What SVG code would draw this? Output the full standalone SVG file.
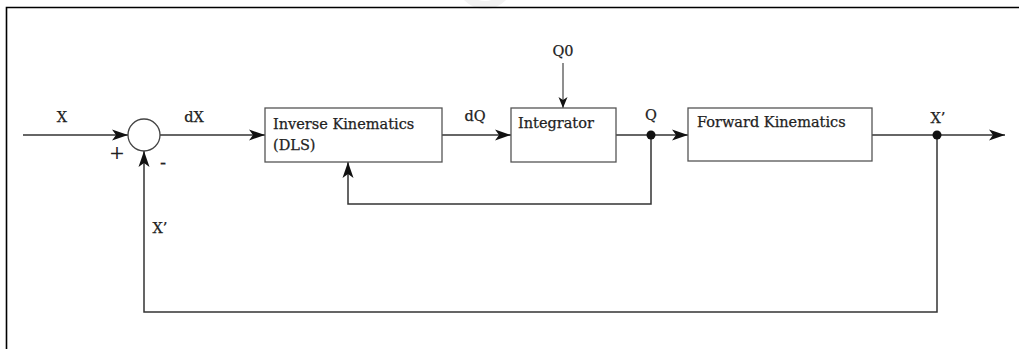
<svg xmlns="http://www.w3.org/2000/svg" width="1019" height="349" viewBox="0 0 1019 349">
<style>
  .box{fill:#fff;stroke:#555;stroke-width:1.3}
  .ln{fill:none;stroke:#333;stroke-width:1.5}
  .thin{fill:none;stroke:#333;stroke-width:1.1}
  .t{font-family:"DejaVu Serif","Liberation Serif",serif;font-size:14.5px;fill:#222;stroke:#222;stroke-width:0.25}
  .lbl{font-family:"DejaVu Serif","Liberation Serif",serif;font-size:14.5px;fill:#222;stroke:#222;stroke-width:0.25;text-anchor:middle}
</style>
<defs>
  <marker id="arr" markerUnits="userSpaceOnUse" markerWidth="18" markerHeight="12" refX="16" refY="6" orient="auto">
    <path d="M0,0.5 L16,6 L0,11.5 L4,6 z" fill="#111"/>
  </marker>
  <marker id="arrs" markerUnits="userSpaceOnUse" markerWidth="12" markerHeight="10" refX="11" refY="5" orient="auto">
    <path d="M0,0.5 L11,5 L0,9.5 L3,5 z" fill="#111"/>
  </marker>
</defs>
<rect width="1019" height="349" fill="#fff"/>
<path d="M460,-20 A25,25 0 0 0 510,-20" fill="none" stroke="#f2f2f2" stroke-width="8"/>
<path d="M6.5,349 V7.5 H1019" fill="none" stroke="#000" stroke-width="1.6"/>

<g id="connectors">
  <line class="ln" x1="23" y1="135" x2="128" y2="135" marker-end="url(#arr)"/>
  <line class="ln" x1="160" y1="135" x2="265" y2="135" marker-end="url(#arr)"/>
  <line class="ln" x1="442" y1="135" x2="511" y2="135" marker-end="url(#arr)"/>
  <line class="ln" x1="616" y1="135" x2="688" y2="135" marker-end="url(#arr)"/>
  <line class="ln" x1="872" y1="135" x2="1005" y2="135" marker-end="url(#arr)"/>
  <line class="thin" x1="563" y1="63" x2="563" y2="108" marker-end="url(#arrs)"/>
  <polyline class="ln" points="651,135 651,204 348,204 348,162" marker-end="url(#arr)"/>
  <polyline class="ln" points="937,135 937,312 144,312 144,151" marker-end="url(#arr)"/>
  <circle cx="651" cy="135" r="4.5" fill="#111"/>
  <circle cx="937" cy="135" r="4.5" fill="#111"/>
</g>

<g id="sum">
  <circle cx="144" cy="135" r="16" fill="#fff" stroke="#444" stroke-width="1.3"/>
  <text class="lbl" x="117" y="159" style="font-size:19px;stroke-width:0">+</text>
  <text class="lbl" x="163" y="169" style="font-size:18px">-</text>
</g>

<g id="ik">
  <rect class="box" x="265" y="108" width="177" height="54"/>
  <text class="t" x="273" y="129">Inverse Kinematics</text>
  <text class="t" x="273" y="150">(DLS)</text>
</g>

<g id="integrator">
  <rect class="box" x="511" y="108" width="105" height="54"/>
  <text class="t" x="518" y="128">Integrator</text>
</g>

<g id="fk">
  <rect class="box" x="688" y="108" width="184" height="53"/>
  <text class="t" x="697" y="127">Forward Kinematics</text>
</g>

<g id="labels">
  <text class="lbl" x="62" y="122">X</text>
  <text class="lbl" x="194" y="122">dX</text>
  <text class="lbl" x="475" y="121">dQ</text>
  <text class="lbl" x="563" y="56">Q0</text>
  <text class="lbl" x="651" y="120">Q</text>
  <text class="lbl" x="938" y="123">X’</text>
  <text class="lbl" x="160" y="233">X’</text>
</g>
</svg>
